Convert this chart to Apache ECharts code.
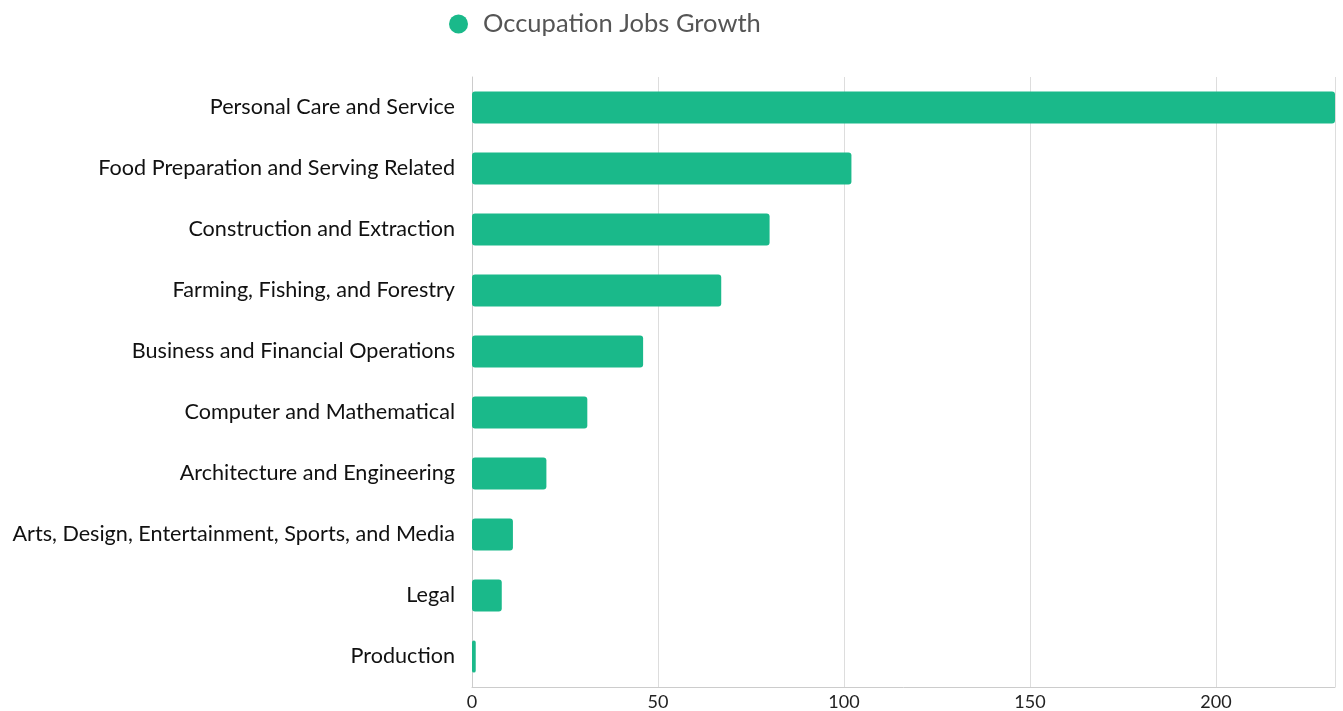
<!DOCTYPE html>
<html>
<head>
<meta charset="utf-8">
<script src="https://cdn.jsdelivr.net/npm/echarts@6/dist/echarts.min.js"></script>
<style>
  html, body { margin: 0; padding: 0; background: #fff; }
  #chart { width: 1343px; height: 711px; }
</style>
</head>
<body>
<div id="chart"></div>
<script>
// categories bottom-to-top (echarts category axis on y starts at the bottom)
const occupations = [
  'Production',
  'Legal',
  'Arts, Design, Entertainment, Sports, and Media',
  'Architecture and Engineering',
  'Computer and Mathematical',
  'Business and Financial Operations',
  'Farming, Fishing, and Forestry',
  'Construction and Extraction',
  'Food Preparation and Serving Related',
  'Personal Care and Service'
]
const jobsGrowth = [1, 8, 11, 20, 31, 46, 67, 80, 102, 232]

const chart = echarts.init(document.getElementById('chart'))

const option = {
  animation: false,
  textStyle: { fontFamily: 'Lato' },
  legend: {
    top: 6,
    left: 444,
    icon: 'circle',
    itemWidth: 19,
    itemHeight: 19,
    itemGap: 10,
    textStyle: { fontSize: 25.5, color: '#555', fontFamily: 'Lato', padding: [0, 0, 0, 10] }
  },
  grid: {
    left: 472,
    right: 8,
    top: 77,
    bottom: 24,
    outerBoundsMode: 'none'
  },
  xAxis: {
    type: 'value',
    min: 0,
    max: 'dataMax',
    interval: 50,
    axisLine: { show: true, lineStyle: { color: '#ccc' } },
    axisTick: { show: false },
    axisLabel: { fontSize: 18, color: '#222', margin: 6, showMaxLabel: false },
    splitLine: { lineStyle: { color: '#ddd' } }
  },
  yAxis: {
    type: 'category',
    data: occupations,
    axisLine: { show: true, lineStyle: { color: '#ccc' } },
    axisTick: { show: false },
    axisLabel: { fontSize: 21.6, color: '#111', margin: 17 }
  },
  series: [
    {
      name: 'Occupation Jobs Growth',
      type: 'bar',
      data: jobsGrowth,
      barWidth: 32,
      itemStyle: { color: '#1ab98a', borderRadius: 3 }
    }
  ]
}

chart.setOption(option)
</script>
</body>
</html>
